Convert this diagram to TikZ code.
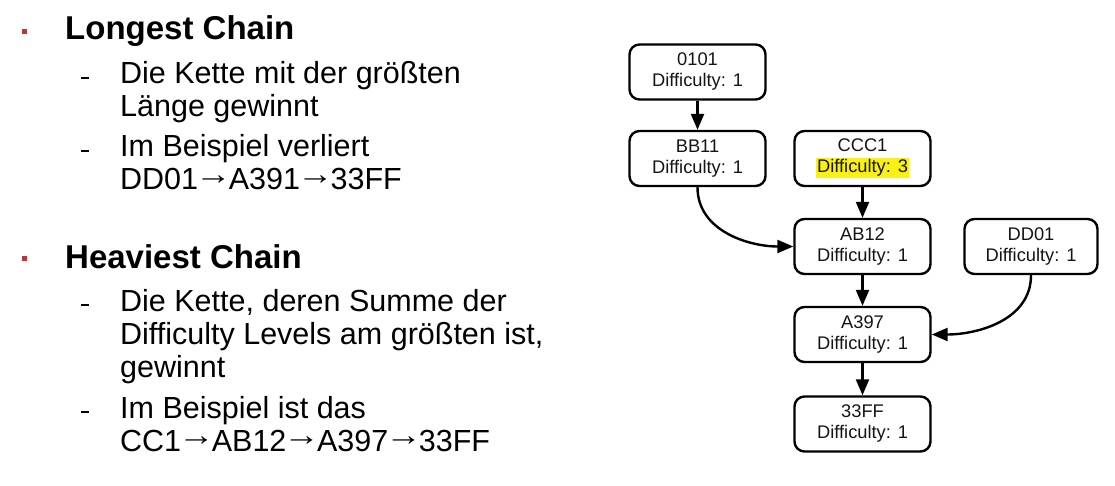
\documentclass[tikz,border=0pt]{standalone}
\usepackage{graphicx}
\usepackage{fontspec}
\setmainfont{Liberation Sans}
\usetikzlibrary{arrows.meta}
\definecolor{bulletred}{RGB}{185,55,55}
\definecolor{hl}{RGB}{250,240,20}
\definecolor{boxtext}{RGB}{20,20,20}
\newcommand{\hlt}[1]{{\setlength{\fboxsep}{1.5pt}\colorbox{hl}{#1}}}
\newcommand{\arr}{\kern-3pt\raisebox{5.5pt}{\scalebox{1.2}[1]{→}}\kern-3pt}
\tikzset{
 blk/.style={draw=black, line width=2.4pt, rounded corners=10pt, minimum width=136pt, minimum height=55pt, align=center, text=boxtext, font=\fontsize{18.3}{21}\selectfont, inner sep=2pt},
 conn/.style={line width=2.4pt, -{Triangle[length=16pt,width=13pt]}},
 headtxt/.style={anchor=base west, inner sep=0pt, font=\fontsize{33}{36}\selectfont\bfseries},
 bodytxt/.style={anchor=base west, inner sep=0pt, font=\fontsize{30.5}{33}\selectfont},
 bul/.style={fill=bulletred, minimum size=5pt, inner sep=0pt},
 dsh/.style={fill=black, minimum width=8pt, minimum height=1.5pt, inner sep=0pt},
}
\begin{document}
\begin{tikzpicture}[x=1pt,y=-1pt]
\useasboundingbox (0,0) rectangle (1115,486);
% left text
\node[bul] (b1) at (24.5,31.5) {};
\node[headtxt] (h1) at (65,40) {Longest Chain};
\node[dsh] (d1) at (84.5,78) {};
\node[bodytxt] (t1) at (120,84) {Die Kette mit der größten};
\node[bodytxt] (t2) at (120,117) {Länge gewinnt};
\node[dsh] (d2) at (84.5,151) {};
\node[bodytxt] (t3) at (120,157) {Im Beispiel verliert};
\node[bodytxt] (t4) at (120,190) {DD01\arr A391\arr 33FF};
\node[bul] (b2) at (24.5,258) {};
\node[headtxt] (h2) at (65,268) {Heaviest Chain};
\node[dsh] (d3) at (84.5,305) {};
\node[bodytxt] (t5) at (120,311) {Die Kette, deren Summe der};
\node[bodytxt] (t6) at (120,344) {Difficulty Levels am größten ist,};
\node[bodytxt] (t7) at (120,377) {gewinnt};
\node[dsh] (d4) at (84.5,412) {};
\node[bodytxt] (t8) at (120,418) {Im Beispiel ist das};
\node[bodytxt] (t9) at (120,451) {CC1\arr AB12\arr A397\arr 33FF};
% diagram
\node[blk] (n0101) at (697.5,72) {0101\\Difficulty: 1};
\node[blk] (bb11) at (697.5,158.5) {BB11\\Difficulty: 1};
\node[blk] (ccc1) at (862.5,158.5) {CCC1\\\hlt{Difficulty: 3}};
\node[blk] (ab12) at (862.5,246.5) {AB12\\Difficulty: 1};
\node[blk, minimum width=133pt] (dd01) at (1031,246.5) {DD01\\Difficulty: 1};
\node[blk] (a397) at (862.5,334.5) {A397\\Difficulty: 1};
\node[blk] (ff33) at (862.5,424) {33FF\\Difficulty: 1};
\draw[conn] (n0101) -- (bb11);
\draw[conn] (ccc1) -- (ab12);
\draw[conn] (ab12) -- (a397);
\draw[conn] (a397) -- (ff33);
\draw[conn] (bb11.south) to[out=-90,in=180] (ab12.west);
\draw[conn] (dd01.south) to[out=-90,in=0] (a397.east);
\end{tikzpicture}
\end{document}
